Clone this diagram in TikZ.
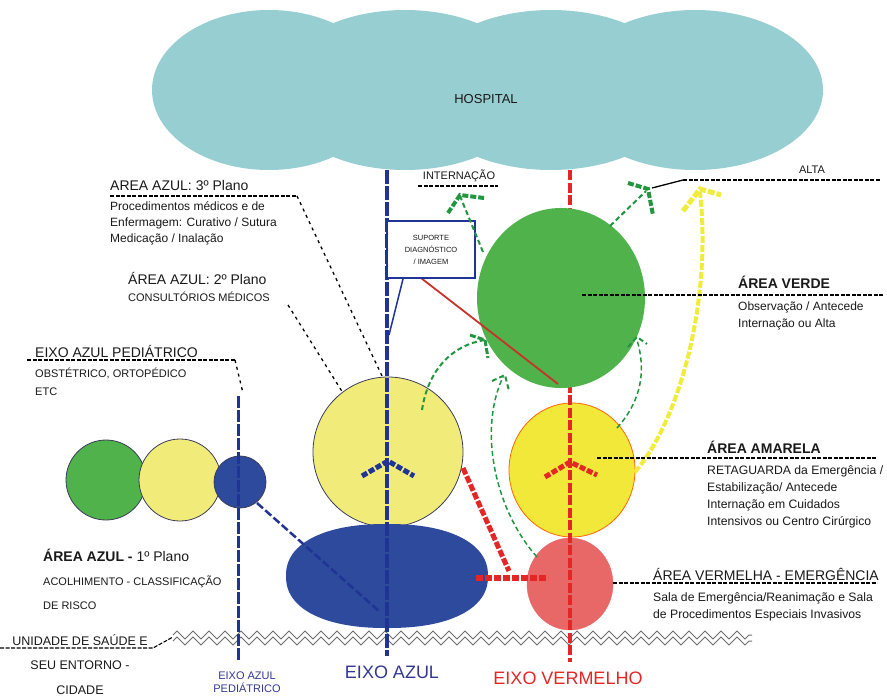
\documentclass[tikz,border=0pt]{standalone}
\usepackage{fontspec}
\setmainfont{Liberation Sans}
\usetikzlibrary{decorations.pathmorphing}
\definecolor{hospc}{RGB}{150,206,210}
\definecolor{greenc}{RGB}{80,178,74}
\definecolor{arrowg}{RGB}{34,150,62}
\definecolor{paleyel}{RGB}{241,236,122}
\definecolor{yelc}{RGB}{241,232,58}
\definecolor{arrowy}{RGB}{240,236,60}
\definecolor{bluec}{RGB}{45,74,156}
\definecolor{axisb}{RGB}{32,52,150}
\definecolor{redc}{RGB}{228,38,38}
\definecolor{pinkc}{RGB}{232,104,104}
\definecolor{darkred}{RGB}{200,50,40}
\definecolor{textc}{RGB}{25,25,25}
\definecolor{zigc}{RGB}{110,110,110}
\definecolor{eixob}{RGB}{50,55,145}
\definecolor{outl}{RGB}{60,60,90}
\begin{document}
\begin{tikzpicture}[x=1pt,y=-1pt,
  lbl/.style={inner sep=0pt, text=textc, anchor=west, align=left},
  ttl/.style={lbl, font=\fontsize{14}{16}\selectfont},
  ttlb/.style={lbl, font=\bfseries\fontsize{14}{16}\selectfont},
  leader/.style={draw=black, line width=1.1pt, dash pattern=on 4pt off 1.5pt},
  sparse/.style={draw=black, line width=1.3pt, dash pattern=on 3pt off 4pt},
  gflow/.style={draw=arrowg, line width=1.5pt, dash pattern=on 5pt off 3pt},
  ghead/.style={draw=arrowg, line width=4pt, dash pattern=on 6pt off 2pt},
  blueaxis/.style={draw=axisb, line width=3.5pt, dash pattern=on 14pt off 2pt},
  redaxis/.style={draw=redc, line width=3.5pt, dash pattern=on 10pt off 2.5pt},
  redthick/.style={draw=redc, line width=5pt, dash pattern=on 7pt off 2pt},
  zig/.style={draw=zigc, line width=1pt, decorate, decoration={zigzag, segment length=16pt, amplitude=4pt}}
]
\useasboundingbox (0,0) rectangle (887,697);

% hospital cloud
\fill[hospc] (269,90) ellipse [x radius=117pt, y radius=80pt];
\fill[hospc] (405,90) ellipse [x radius=131pt, y radius=80pt];
\fill[hospc] (551,90) ellipse [x radius=134pt, y radius=80pt];
\fill[hospc] (695,90) ellipse [x radius=128pt, y radius=80pt];
\node[font=\fontsize{13}{15}\selectfont, text=textc] (hospital) at (486,99) {HOSPITAL};

% zigzag ground
\coordinate (zA1) at (173,635); \coordinate (zB1) at (752,635);
\coordinate (zA2) at (173,641); \coordinate (zB2) at (752,641);
\draw[zig] (zA1) -- (zB1);
\draw[zig] (zA2) -- (zB2);

% right column shapes
\filldraw[fill=yelc, draw=orange!80!red, line width=0.8pt] (572,470) ellipse [x radius=63pt, y radius=67pt];
\filldraw[fill=pinkc, draw=pinkc] (570,584) ellipse [x radius=43pt, y radius=46pt];
\coordinate (rtop) at (570,170); \coordinate (rbot) at (570,662);
\draw[redaxis] (rtop) -- (rbot);
\fill[greenc] (561,298) ellipse [x radius=84pt, y radius=90pt];

% left column shapes
\filldraw[fill=paleyel, draw=outl, line width=0.8pt] (388,452) circle [radius=75pt];
\fill[bluec] plot[domain=1:357, samples=90, smooth cycle]
  ({387+101*sign(cos(\x))*abs(cos(\x))^0.88},{576+52*sign(sin(\x))*abs(sin(\x))^0.88});
\filldraw[fill=greenc, draw=outl, line width=0.8pt] (106,480) circle [radius=40pt];
\filldraw[fill=paleyel, draw=outl, line width=0.8pt] (180,480) circle [radius=41pt];
\filldraw[fill=bluec, draw=outl, line width=0.8pt] (240,482) circle [radius=26pt];

% axes
\coordinate (btop) at (387,170); \coordinate (bbot) at (387,656);
\draw[blueaxis] (btop) -- (bbot);
\coordinate (ptop) at (238,396); \coordinate (pbot) at (238,660);
\draw[draw=axisb, line width=3pt, dash pattern=on 12pt off 2pt] (ptop) -- (pbot);

% suporte box and links
\coordinate (supbot) at (421,278); \coordinate (gbot) at (558,384);
\draw[darkred, line width=1.8pt] (supbot) -- (gbot);
\node[draw=axisb, line width=2pt, fill=white, minimum width=88pt, minimum height=57pt, inner sep=1pt, align=center, font=\fontsize{7.5}{12}\selectfont, text=textc] (sup) at (431,249.5) {SUPORTE\\DIAGNÓSTICO\\/ IMAGEM};
\coordinate (supl) at (403,279); \coordinate (baxm) at (389,335);
\draw[axisb, line width=1.5pt] (supl) -- (baxm);

% chevrons
\coordinate (bc1) at (362,476); \coordinate (bc0) at (388,461); \coordinate (bc2) at (414,476);
\draw[draw=axisb, line width=5pt, dash pattern=on 6pt off 2pt] (bc1) -- (bc0) -- (bc2);
\coordinate (rc1) at (545,477); \coordinate (rc0) at (570,462); \coordinate (rc2) at (597,475);
\draw[draw=redc, line width=5pt, dash pattern=on 6pt off 2pt] (rc1) -- (rc0) -- (rc2);

% red thick connectors
\coordinate (ry1) at (463,468); \coordinate (ry2) at (509,571);
\draw[redthick] (ry1) -- (ry2);
\coordinate (rh1) at (476,578); \coordinate (rh2) at (548,578);
\draw[redthick, line width=6pt] (rh1) -- (rh2);

% blue dashed diagonal
\coordinate (pd1) at (257,503); \coordinate (pd2) at (380,612);
\draw[draw=axisb, line width=2.5pt, dash pattern=on 8pt off 3pt] (pd1) -- (pd2);

% green flows
\coordinate (int0) at (483,252); \coordinate (intT) at (460,196);
\draw[gflow, line width=2pt] (int0) -- (intT);
\draw[ghead] (448,213) -- (460,195) -- (484,198);
\coordinate (alt0) at (610,226); \coordinate (altT) at (646,191);
\draw[gflow, line width=2pt] (alt0) -- (altT);
\draw[ghead] (628,183) -- (648,189) -- (653,215);
\coordinate (a1s) at (422,410); \coordinate (a1e) at (485,340);
\draw[gflow, line width=2pt] (a1s) .. controls (428,370) and (452,345) .. (a1e);
\draw[ghead, line width=3pt] (470,335) -- (485,340) -- (488,358);
\coordinate (a2s) at (537,557); \coordinate (a2e) at (503,377);
\draw[gflow] (a2s) .. controls (495,510) and (478,430) .. (a2e);
\draw[gflow, line width=2pt] (492,381) -- (505,375) -- (509,391);
\coordinate (a3s) at (617,428); \coordinate (a3e) at (637,340);
\draw[gflow] (a3s) .. controls (642,400) and (646,370) .. (a3e);
\draw[gflow, line width=2pt] (628,347) -- (637,337) -- (647,344);

% yellow flow
\coordinate (ys) at (635,472); \coordinate (ye) at (700,192);
\draw[draw=arrowy, line width=4pt, dash pattern=on 7pt off 2pt] (ys) .. controls (680,420) and (712,300) .. (ye);
\draw[draw=arrowy, line width=5pt, dash pattern=on 7pt off 2pt] (683,211) -- (700,189) -- (721,195);

% leaders
\coordinate (l3a) at (110,196); \coordinate (l3b) at (297,196); \coordinate (l3c) at (383,378);
\draw[leader] (l3a) -- (l3b);
\draw[sparse] (l3b) -- (l3c);
\coordinate (l2a) at (288,305); \coordinate (l2b) at (343,393);
\draw[sparse] (l2a) -- (l2b);
\coordinate (lpa) at (27,360); \coordinate (lpb) at (235,360); \coordinate (lpc) at (243,393);
\draw[leader] (lpa) -- (lpb);
\draw[sparse] (lpb) -- (lpc);
\coordinate (lva) at (582,295); \coordinate (lvb) at (884,295);
\draw[leader] (lva) -- (lvb);
\coordinate (laa) at (597,458); \coordinate (lab) at (877,458);
\draw[leader] (laa) -- (lab);
\coordinate (lra) at (613,583); \coordinate (lrb) at (877,583);
\draw[leader] (lra) -- (lrb);
\coordinate (lua) at (0,648); \coordinate (lub) at (153,648); \coordinate (luc) at (173,637);
\draw[leader] (lua) -- (lub) -- (luc);
\coordinate (lia) at (418,186); \coordinate (lib) at (498,186);
\draw[leader] (lia) -- (lib);
\coordinate (lta) at (683,180); \coordinate (ltb) at (880,180); \coordinate (ltc) at (652,188);
\draw[leader] (lta) -- (ltb);
\draw[black, line width=1.3pt] (lta) -- (ltc);

% texts
\node[font=\fontsize{11}{13}\selectfont, text=textc] (tint) at (459,176) {INTERNAÇÃO};
\node[font=\fontsize{11}{13}\selectfont, text=textc] (talta) at (812,170) {ALTA};

\node[ttl] (t3) at (110,185) {AREA AZUL: 3º Plano};
\node[lbl, anchor=north west, font=\fontsize{12}{16}\selectfont] (t3b) at (110,201) {Procedimentos médicos e de\\Enfermagem: Curativo / Sutura\\Medicação / Inalação};
\node[ttl] (t2) at (128,278) {ÁREA AZUL: 2º Plano};
\node[lbl, font=\fontsize{11}{13}\selectfont] (t2b) at (128,297) {CONSULTÓRIOS MÉDICOS};
\node[ttl] (tp) at (35,351) {EIXO AZUL PEDIÁTRICO};
\node[lbl, anchor=north west, font=\fontsize{11}{18}\selectfont] (tpb) at (35,368) {OBSTÉTRICO, ORTOPÉDICO\\ETC};
\node[ttlb] (t1) at (43,555) {ÁREA AZUL - \normalfont 1º Plano};
\node[lbl, font=\fontsize{11}{13}\selectfont] (t1b) at (43,582) {ACOLHIMENTO - CLASSIFICAÇÃO};
\node[lbl, font=\fontsize{11}{13}\selectfont] (t1c) at (43,606) {DE RISCO};
\node[font=\fontsize{12.5}{14}\selectfont, text=textc] (tu1) at (80,640) {UNIDADE DE SAÚDE E};
\node[font=\fontsize{12.5}{14}\selectfont, text=textc] (tu2) at (80,665) {SEU ENTORNO -};
\node[font=\fontsize{12.5}{14}\selectfont, text=textc] (tu3) at (80,690) {CIDADE};
\node[font=\fontsize{11}{13}\selectfont, text=eixob, align=center] (tep) at (247,682) {EIXO AZUL\\PEDIÁTRICO};
\node[font=\fontsize{18}{20}\selectfont, text=eixob] (tea) at (392,672) {EIXO AZUL};
\node[font=\fontsize{18}{20}\selectfont, text=redc] (tev) at (568,678) {EIXO VERMELHO};

\node[ttlb] (tv) at (738,282) {ÁREA VERDE};
\node[lbl, anchor=north west, font=\fontsize{12}{17}\selectfont] (tvb) at (738,302) {Observação / Antecede\\Internação ou Alta};
\node[ttlb] (ta) at (707,447) {ÁREA AMARELA};
\node[lbl, anchor=north west, font=\fontsize{12.2}{17}\selectfont] (tab) at (707,465) {RETAGUARDA da Emergência /\\Estabilização/ Antecede\\Internação em Cuidados\\Intensivos ou Centro Cirúrgico};
\node[ttl] (tr) at (653,574) {ÁREA VERMELHA - EMERGÊNCIA};
\node[lbl, anchor=north west, font=\fontsize{12.2}{17}\selectfont] (trb) at (653,592) {Sala de Emergência/Reanimação e Sala\\de Procedimentos Especiais Invasivos};
\end{tikzpicture}
\end{document}
